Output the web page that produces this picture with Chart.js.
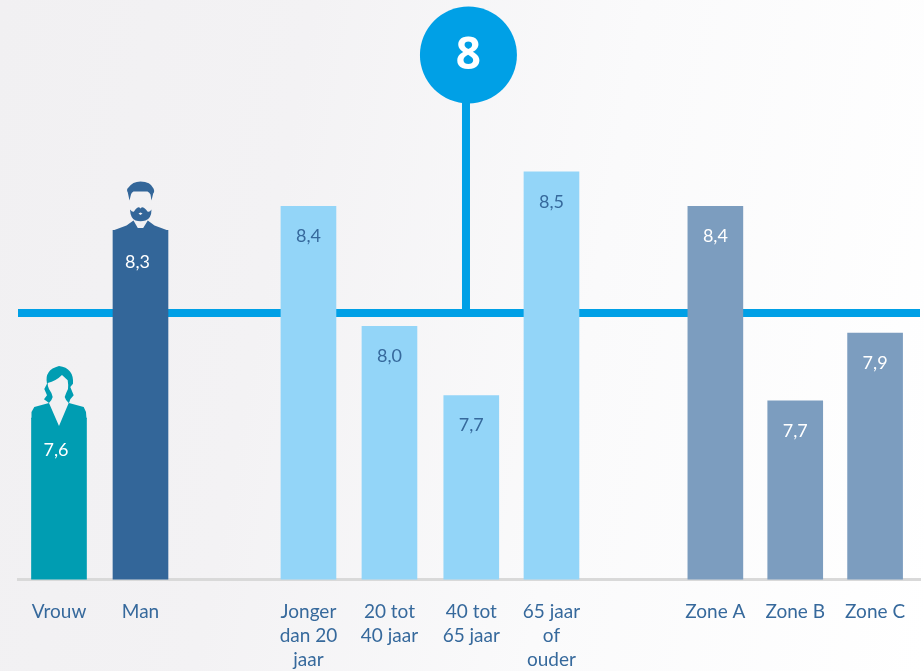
<!DOCTYPE html>
<html><head><meta charset="utf-8">
<script src="https://cdn.jsdelivr.net/npm/chart.js@4"></script>
<style>
html,body{margin:0;padding:0;width:924px;height:671px;overflow:hidden}
body{background:linear-gradient(100deg,#f1f0f2 0%,#f3f2f4 30%,#fafafb 62%,#ffffff 100%)}
#w{position:absolute;left:0;top:0;width:924px;height:671px}
</style></head><body><div id="w"><canvas id="c" width="924" height="671"></canvas></div>
<script>
const categories=[['Vrouw'],['Man'],['Jonger','dan 20','jaar'],['20 tot','40 jaar'],['40 tot','65 jaar'],['65 jaar','of','ouder'],['Zone A'],['Zone B'],['Zone C']];
const valueLabels=['7,6','8,3','8,4','8,0','7,7','8,5','8,4','7,7','7,9'];
const barHeights=[7.606,8.31,8.4,7.95,7.69,8.53,8.4,7.67,7.925];
const barSlots=[0.006,1.006,3.067,4.061,5.065,6.049,8.06,9.04,10.02];
const barColors=['#009db2','#336699','#93d5f8','#93d5f8','#93d5f8','#93d5f8','#7c9dbf','#7c9dbf','#7c9dbf'];
const labelColors=['#fff','#fff','#36699c','#36699c','#36699c','#36699c','#fff','#fff','#fff'];
const overall=8;
const overallLabel='8';
const TEXT='#36699c';

function poly(ctx,pts){ctx.beginPath();pts.forEach((p,i)=>{if(p.length===2){i?ctx.lineTo(p[0],p[1]):ctx.moveTo(p[0],p[1]);}else ctx.quadraticCurveTo(p[0],p[1],p[2],p[3]);});ctx.closePath();ctx.fill();}
function silhouettes(chart){
  const ctx=chart.ctx, bars=chart.getDatasetMeta(0).data;
  let b=bars[1];
  ctx.save();ctx.translate(b.x,b.y);ctx.fillStyle=barColors[1];
  poly(ctx,[[-27.5,0.5],[-27.5,0],[-14,-5],[-7,-10],[-2.7,-2.3],[2.7,-2.3],[7.3,-10],[14,-5],[27.5,0],[27.5,0.5]]);
  poly(ctx,[[-10.5,-21],[-8,-18,-6.5,-19],[-3,-24,-1,-23],[0,-22],[1,-23],[3,-24,7,-19],[9,-18,11,-21],[11,-12,5,-10],[0,-8.5,-5,-10],[-10,-12,-10.5,-21]]);
  poly(ctx,[[-11,-30],[-12.7,-38],[-14.5,-41,-12,-43],[-8,-49,0,-49],[10,-49,13,-42],[14.5,-39,12.7,-37],[11,-30],[10,-36],[9,-38,7,-39],[-7,-39],[-9,-38,-9.5,-36]]);
  ctx.fillStyle='#f3f2f4';
  poly(ctx,[[-2,-17],[0,-18],[2,-17],[0,-15.5]]);
  ctx.restore();
  b=bars[0];
  ctx.save();ctx.translate(b.x,b.y);ctx.fillStyle=barColors[0];
  poly(ctx,[[-27.5,1],[-27.5,-6],[-24.7,-11],[-10,-15],[-15,-18.7],[-12,-22.7],[-14.7,-29],[-12,-34.3],[-15,-48,0,-52],[15,-50,14,-34.3],[11.3,-31],[14.7,-22.7],[11.3,-18.7],[10,-15],[24.7,-11],[27,-6],[27.5,1]]);
  ctx.fillStyle='#f2f1f3';
  poly(ctx,[[-11.3,-35],[-3,-37,3,-43],[8.7,-37.7],[9.5,-33,9,-29],[7,-25,5.7,-21],[6.5,-18,9.7,-15],[0,8],[-10,-15],[-7,-18,-6.3,-21],[-7,-25,-10,-29],[-11.5,-32,-11.3,-35]]);
  ctx.restore();
}
const overlay={id:'overlay',afterDatasetsDraw(chart){
  const ctx=chart.ctx,bars=chart.getDatasetMeta(0).data;
  silhouettes(chart);
  ctx.save();ctx.textAlign='center';ctx.textBaseline='middle';ctx.font='18px Lato';
  bars.forEach((b,i)=>{ctx.fillStyle=labelColors[i];ctx.fillText(valueLabels[i],b.x-(i<2?3:0),b.y+(i<2?32:30));});
  const p=chart.getDatasetMeta(2).data[1];
  ctx.fillStyle='#fff';ctx.font='bold 44px "Open Sans"';ctx.fillText(overallLabel,p.x,p.y+1);
  ctx.restore();
}};
const stemSlot=5, circleSlot=5.03, circleLevel=8.968, xMin=-0.497, xMax=10.571;
new Chart(document.getElementById('c'),{
  type:'bar',
  data:{datasets:[
    {type:'bar',order:1,data:barSlots.map((x,i)=>({x,y:barHeights[i]})),backgroundColor:barColors,barThickness:55,borderWidth:0},
    {type:'line',order:3,data:[{x:xMin,y:overall},{x:xMax,y:overall}],borderColor:'#00a0e6',borderWidth:8,pointRadius:0,borderCapStyle:'butt'},
    {type:'line',order:2,clip:false,data:[{x:stemSlot,y:overall},{x:circleSlot,y:circleLevel}],showLine:false,
      pointRadius:[0,48.5],pointBackgroundColor:'#00a0e6',pointBorderWidth:0},
    {type:'line',order:3,clip:false,data:[{x:stemSlot,y:overall},{x:stemSlot,y:circleLevel}],borderColor:'#00a0e6',borderWidth:8,pointRadius:0,borderCapStyle:'butt'}
  ]},
  options:{
    responsive:false,animation:false,
    layout:{autoPadding:false,padding:{left:18,right:4,top:46.5,bottom:0}},
    plugins:{legend:{display:false},tooltip:{enabled:false}},
    scales:{
      x:{type:'linear',offset:false,min:xMin,max:xMax,
        afterBuildTicks(s){s.ticks=barSlots.map(v=>({value:v}));},
        afterFit(s){s.paddingLeft=0;s.paddingRight=0;s.height=91.5;if(s._margins){s._margins.left=0;s._margins.right=0;}},
        grid:{display:false,drawTicks:false,offset:false},border:{color:'#d9d9d9',width:3},
        ticks:{autoSkip:false,maxRotation:0,padding:20,color:TEXT,font:{family:'Lato',size:19,lineHeight:'24px'},
          callback(v,i){return categories[i];}}},
      y:{display:false,min:7,max:9}
    }
  },
  plugins:[overlay]
});
</script></body></html>
